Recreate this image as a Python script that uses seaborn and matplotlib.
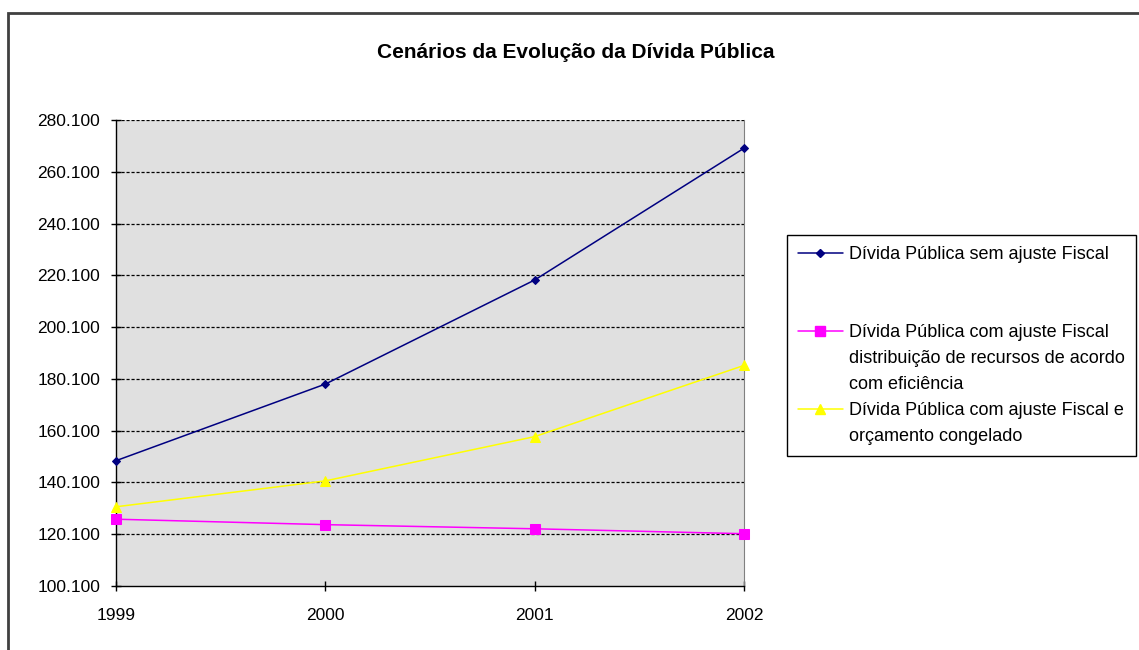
import matplotlib
matplotlib.use("Agg")
import matplotlib.pyplot as plt
from matplotlib.lines import Line2D
from matplotlib.patches import Rectangle
from matplotlib.ticker import FuncFormatter
import seaborn as sns
import pandas as pd

years = [1999, 2000, 2001, 2002]
sem_ajuste = [148500, 178100, 218300, 269200]
com_ajuste_eficiencia = [125900, 123800, 122200, 120300]
com_ajuste_congelado = [130700, 140700, 157800, 185300]
y_ticks = [100100, 120100, 140100, 160100, 180100, 200100, 220100, 240100, 260100, 280100]

title = "Cenários da Evolução da Dívida Pública"
labels = [
    ["Dívida Pública sem ajuste Fiscal", "", ""],
    ["Dívida Pública com ajuste Fiscal", "distribuição de recursos de acordo", "com eficiência"],
    ["Dívida Pública com ajuste Fiscal e", "orçamento congelado"],
]
colors = ["#000080", "#FF00FF", "#FFFF00"]
markers = ["D", "s", "^"]
msizes = [4, 7, 7]

sns.set_theme(style="white")
plt.rcParams["font.family"] = ["Liberation Sans", "DejaVu Sans"]
plt.rcParams["text.color"] = "black"

fig = plt.figure(figsize=(11.39, 6.5), dpi=100)
fig.patch.set_facecolor("white")

W, H = 1139, 650
ax = fig.add_axes([116 / W, (H - 586) / H, (744 - 116) / W, (586 - 120) / H])
ax.set_facecolor("#E0E0E0")

series = [sem_ajuste, com_ajuste_eficiencia, com_ajuste_congelado]
for vals, c, m, ms in zip(series, colors, markers, msizes):
    df = pd.DataFrame({"ano": years, "valor": vals})
    sns.lineplot(data=df, x="ano", y="valor", ax=ax, color=c, marker=m,
                 markersize=ms, markeredgecolor=c, linewidth=1.1, legend=False,
                 clip_on=False, zorder=3)

ax.set_xlim(years[0], years[-1])
ax.set_ylim(y_ticks[0], y_ticks[-1])
ax.set_xticks(years)
ax.set_xticklabels([str(y) for y in years])
ax.set_yticks(y_ticks)
ax.yaxis.set_major_formatter(FuncFormatter(lambda v, p: f"{int(round(v)):,}".replace(",", ".")))
ax.set_xlabel("")
ax.set_ylabel("")
for t in y_ticks[1:]:
    ax.axhline(t, color="black", linestyle=(0, (2.5, 1.5)), linewidth=0.9, zorder=1)
ax.grid(False)

for s in ["left", "bottom"]:
    ax.spines[s].set_color("black")
    ax.spines[s].set_linewidth(1.0)
for s in ["top", "right"]:
    ax.spines[s].set_color("#808080")
    ax.spines[s].set_linewidth(0.8)
ax.spines["top"].set_visible(False)

ax.tick_params(axis="both", which="both", direction="inout", length=7, width=1,
               color="black", labelsize=12.5, labelcolor="black", left=True, bottom=True)
ax.tick_params(axis="y", pad=8)
ax.tick_params(axis="x", pad=12)

fig.text(576 / W, 1 - 52 / H, title, ha="center", va="center", fontsize=15,
         fontweight="bold", color="black")

# legend
handles, texts = [], []
blank = Line2D([], [], color="none")
for lab, c, m, ms in zip(labels, colors, markers, msizes):
    for i, line in enumerate(lab):
        if i == 0:
            handles.append(Line2D([], [], color=c, marker=m, markersize=ms if m != "D" else 4.5,
                                  markeredgecolor=c, linewidth=1.1))
        else:
            handles.append(blank)
        texts.append(line)
leg = fig.legend(handles, texts, loc="upper left", bbox_to_anchor=(787 / W, 1 - 235 / H),
                 bbox_transform=fig.transFigure, borderaxespad=0, frameon=True, fancybox=False,
                 edgecolor="black", facecolor="white", framealpha=1, fontsize=13,
                 handlelength=2.5, handletextpad=0.35, labelspacing=0.5, borderpad=0.6)
leg.get_frame().set_linewidth(1.0)
for t in leg.get_texts():
    t.set_color("black")

# outer chart border
fig.patches.append(Rectangle((8 / W, -0.05), 1.2, (H - 13) / H + 0.05, transform=fig.transFigure,
                             fill=False, edgecolor="#404040", linewidth=2, figure=fig))

fig.savefig("out.png", dpi=100)
